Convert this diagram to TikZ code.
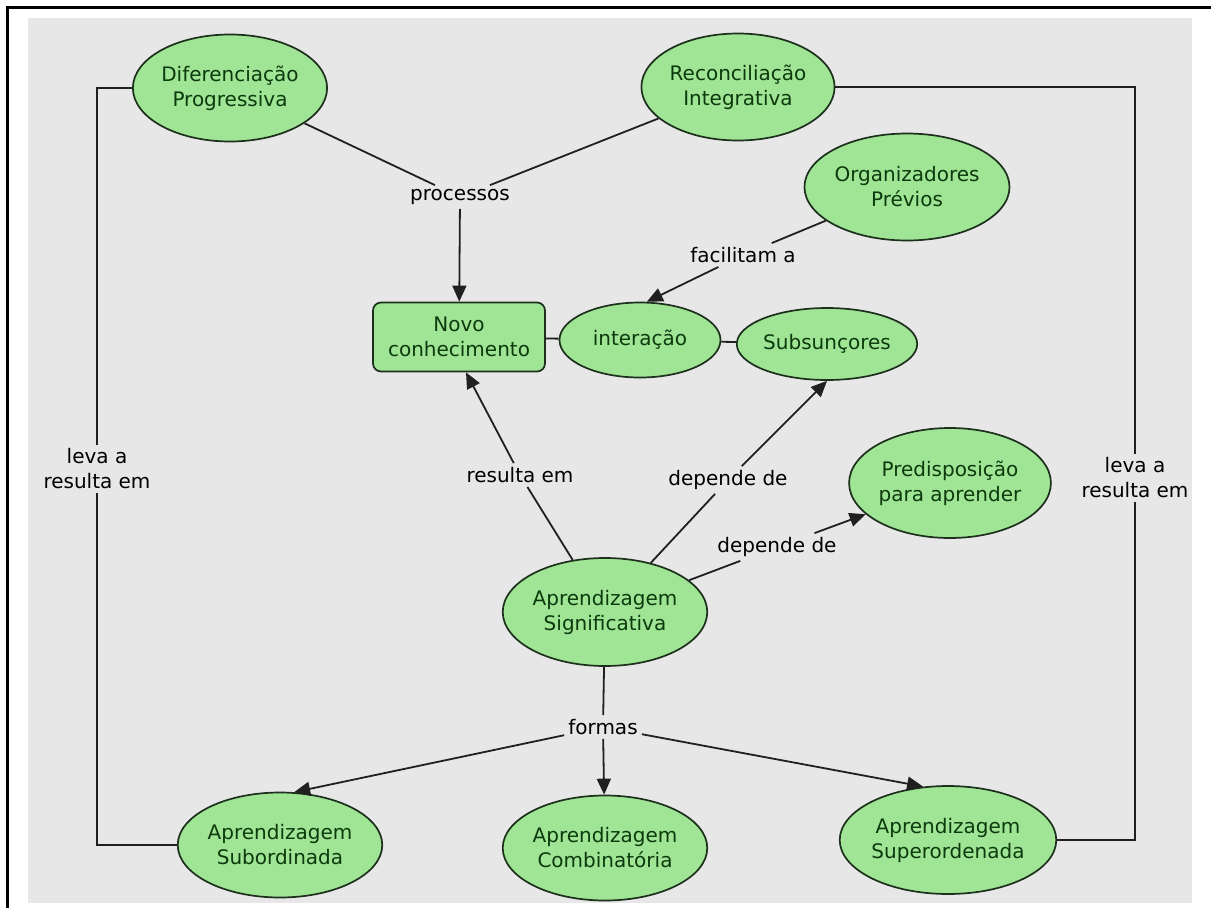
\documentclass[tikz,border=0pt]{standalone}
\usepackage{fontspec}
\setmainfont{DejaVu Sans}
\usetikzlibrary{positioning}
\usetikzlibrary{calc}
\usetikzlibrary{arrows.meta}
\usetikzlibrary{shapes}

\definecolor{bggray}{RGB}{231,231,231}
\definecolor{conceptgreen}{RGB}{160,228,150}
\definecolor{conceptdraw}{RGB}{28,48,28}
\definecolor{concepttext}{RGB}{12,58,12}
\definecolor{linkgray}{RGB}{32,32,32}

\begin{document}
\begin{tikzpicture}[
    x=1pt, y=-1pt,                          % work in pixels, y going down
    font=\fontsize{20}{25}\selectfont,
    ]
% -------------------------------------------------
\tikzset{
  base/.style={draw=conceptdraw, line width=1.7pt, fill=conceptgreen, text=concepttext, align=center, inner sep=0pt},
  concept/.style={base, ellipse, minimum width=194pt, minimum height=107pt},
  proc/.style={base, rectangle, rounded corners=8pt, minimum width=172pt, minimum height=69pt},
  linktext/.style={align=center, inner sep=4pt, text=black},
  line/.style={draw=linkgray, line width=1.8pt},
  arrow/.style={line, -{Triangle[length=16pt,width=14pt]}}
}
% -------------------------------------------------
\useasboundingbox (0,0) rectangle (1211,908);
\fill[bggray] (28,18) rectangle (1192,903);
\draw[line width=3pt] (7,908) -- (7,7) -- (1211,7);

% Placing the nodes
\node[concept, minimum width=190pt] (c0) at (230,88) {Diferenciação\\Progressiva};
\node[concept, minimum width=188pt] (c1) at (738,87) {Reconciliação\\Integrativa};
\node[concept, minimum width=188pt] (c2) at (907,187) {Organizadores\\Prévios};

\node[proc] (p0) at (459,337) {Novo\\conhecimento};
\node[concept, minimum width=161pt, minimum height=75pt] (c3) at (640,340) {interação};
\node[concept, minimum width=162pt, minimum height=72pt] (c4) at (827,344) {Subsunçores};

\node[concept, minimum width=195pt, minimum height=110pt] (c5) at (950,483) {Predisposição\\para aprender};
\node[concept, minimum width=195pt, minimum height=108pt] (c6) at (605,612) {Aprendizagem\\Significativa};

\node[concept, minimum height=105pt] (c7) at (280,845) {Aprendizagem\\Subordinada};
\node[concept, minimum width=192pt, minimum height=105pt] (c8) at (605,848) {Aprendizagem\\Combinatória};
\node[concept, minimum width=200pt, minimum height=108pt] (c9) at (948,840) {Aprendizagem\\Superordenada};

% Linking phrases
\node[linktext] (l0) at (460,197) {processos};
\node[linktext] (l1) at (743,255) {facilitam a};
\node[linktext] (l2) at (520,475) {resulta em};
\node[linktext] (l3) at (728,480) {depende de};
\node[linktext] (l4) at (777,547) {depende de};
\node[linktext] (l5) at (603,727) {formas};
\node[linktext] (l6) at (97,469) {leva a\\resulta em};
\node[linktext] (l7) at (1135,478) {leva a\\resulta em};

% Connectors
\path [line] (c0) -- (l0);
\path [line] (c1) -- (l0);
\path [arrow] (l0) -- (p0);

\path [line] (c2) -- (l1);
\path [arrow] (l1) -- (c3.80);
\path [line] (p0) -- (c3);
\path [line] (c3) -- (c4);

\path [line] (c6) -- (l2);
\path [arrow] (l2) -- ([xshift=7pt]p0.south);
\path [line] (c6) -- (l3);
\path [arrow] (l3) -- (c4.south);
\path [line] (c6) -- (l4);
\path [arrow] (l4) -- (c5);

\path [line] (c6) -- (l5);
\path [arrow] (l5) -- (c7.75);
\path [arrow] (l5) -- (c8);
\path [arrow] (l5) -- (c9.115);

\path [line] (c0.west) -| (l6);
\path [line] (l6) |- (c7.west);
\path [line] (c1.east) -| (l7);
\path [line] (l7) |- (c9.east);

\end{tikzpicture}
\end{document}
